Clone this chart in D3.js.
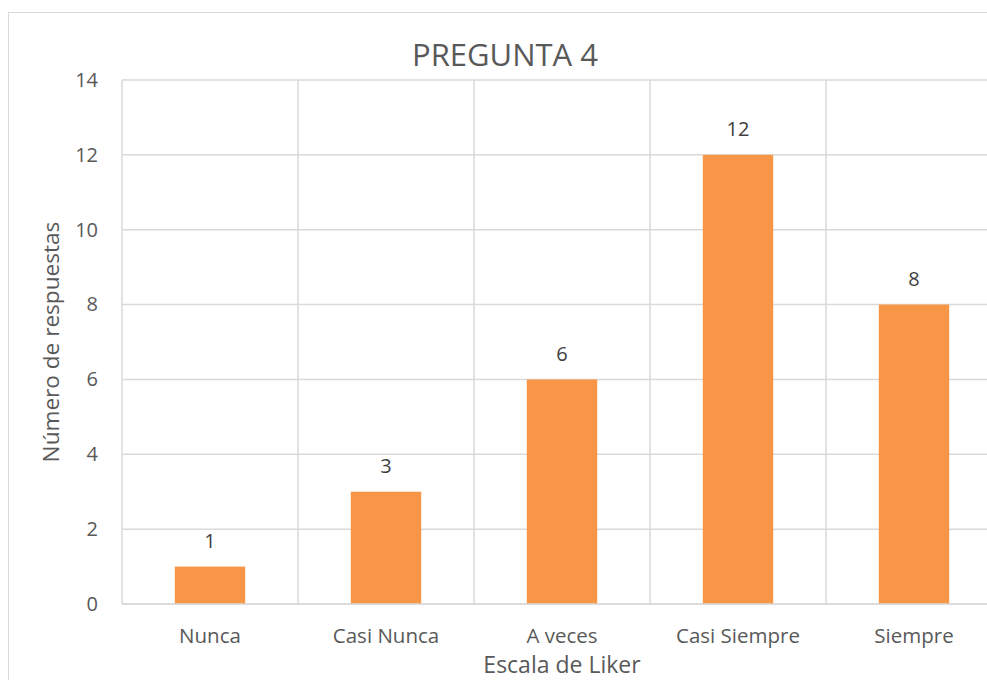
<!DOCTYPE html>
<html><head><meta charset="utf-8">
<script src="https://cdn.jsdelivr.net/npm/d3@7"></script>
<style>body{margin:0;background:#fff}svg{display:block}</style>
</head><body>
<script>
const categories = ["Nunca","Casi Nunca","A veces","Casi Siempre","Siempre"];
const values = [1,3,6,12,8];
const yTicks = [0,2,4,6,8,10,12,14];
const title = "PREGUNTA 4";
const xTitle = "Escala de Liker";
const yTitle = "Número de respuestas";

const W=987,H=680;
const font="'Open Sans', sans-serif";
const txt="#595959";
const svg=d3.select("body").append("svg").attr("width",W).attr("height",H);
svg.append("rect").attr("x",8.5).attr("y",12.5).attr("width",1100).attr("height",700)
  .attr("fill","#fff").attr("stroke","#D9D9D9");
const L=122,R=1002,T=80,B=604;
const x=d3.scaleBand().domain(categories).range([L,R]).paddingInner(0.6).paddingOuter(0.3);
const xg=d3.scaleBand().domain(categories).range([L,R]);
const y=d3.scaleLinear().domain([0,14]).range([B,T]);
const g=svg.append("g");
g.selectAll("line.h").data(yTicks).join("line").attr("class","h")
  .attr("x1",L).attr("x2",R).attr("y1",d=>y(d)).attr("y2",d=>y(d))
  .attr("stroke","#D9D9D9").attr("stroke-width",1.5);
const vb=categories.map(c=>xg(c)).concat([R]);
g.selectAll("line.v").data(vb).join("line").attr("class","v")
  .attr("x1",d=>d).attr("x2",d=>d).attr("y1",T).attr("y2",B)
  .attr("stroke","#D9D9D9").attr("stroke-width",1.5);
g.selectAll("rect.bar").data(values).join("rect").attr("class","bar")
  .attr("x",(d,i)=>x(categories[i])).attr("width",x.bandwidth())
  .attr("y",d=>y(d)).attr("height",d=>y(0)-y(d)).attr("fill","#F79646");
g.append("line").attr("x1",L).attr("x2",R).attr("y1",B).attr("y2",B)
  .attr("stroke","#D9D9D9").attr("stroke-width",1.5);
const ya=svg.append("g").attr("transform",`translate(${L},0)`)
  .call(d3.axisLeft(y).tickValues(yTicks).tickSize(0).tickPadding(24));
ya.select(".domain").remove();
ya.selectAll("text").attr("font-family",font).attr("font-size",20).attr("fill",txt);
const xa=svg.append("g").attr("transform",`translate(0,${B})`)
  .call(d3.axisBottom(xg).tickSize(0).tickPadding(24));
xa.select(".domain").remove();
xa.selectAll("text").attr("font-family",font).attr("font-size",20.5).attr("fill",txt);
svg.selectAll("text.lab").data(values).join("text").attr("class","lab")
  .attr("x",(d,i)=>xg(categories[i])+xg.bandwidth()/2).attr("y",d=>y(d)-18.5)
  .attr("text-anchor","middle").attr("font-family",font).attr("font-size",20).attr("fill","#404040").text(d=>d);
svg.append("text").attr("x",505).attr("y",66).attr("text-anchor","middle")
  .attr("font-family",font).attr("font-size",31).attr("fill",txt).text(title);
svg.append("text").attr("x",562).attr("y",673).attr("text-anchor","middle")
  .attr("font-family",font).attr("font-size",23).attr("fill",txt).text(xTitle);
svg.append("text").attr("transform",`translate(59,342) rotate(-90)`).attr("text-anchor","middle")
  .attr("font-family",font).attr("font-size",22.6).attr("fill",txt).text(yTitle);
</script>
</body></html>
